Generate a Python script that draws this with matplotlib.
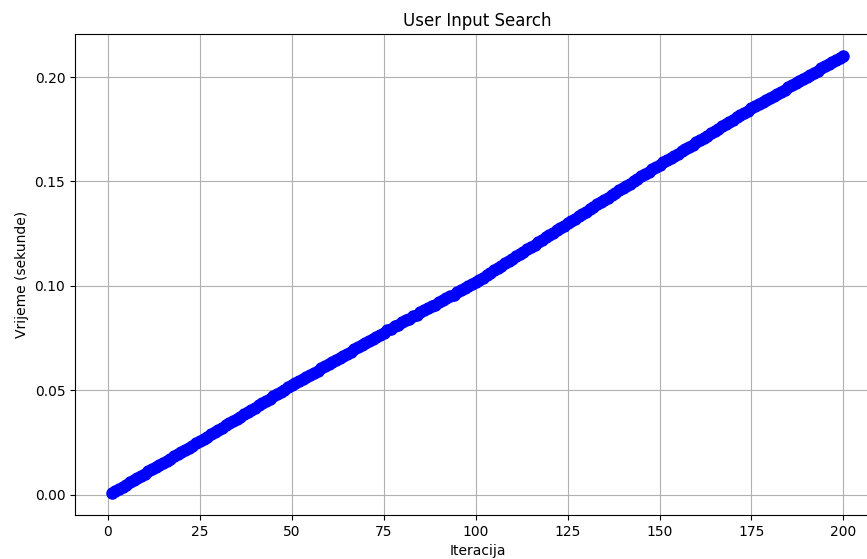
import matplotlib
matplotlib.use("Agg")
import matplotlib.pyplot as plt

# --- data (cumulative time per iteration) ---
iteracije = list(range(1, 201))
vrijeme = [
    0.0008, 0.0018, 0.0029, 0.0039, 0.0049, 0.0060, 0.0070, 0.0081, 0.0091, 0.0101,
    0.0112, 0.0122, 0.0132, 0.0142, 0.0153, 0.0163, 0.0173, 0.0184, 0.0194, 0.0204,
    0.0215, 0.0225, 0.0235, 0.0246, 0.0256, 0.0267, 0.0278, 0.0289, 0.0299, 0.0310,
    0.0321, 0.0332, 0.0342, 0.0353, 0.0364, 0.0374, 0.0385, 0.0396, 0.0407, 0.0418,
    0.0428, 0.0439, 0.0450, 0.0461, 0.0471, 0.0482, 0.0493, 0.0503, 0.0514, 0.0525,
    0.0535, 0.0545, 0.0555, 0.0565, 0.0575, 0.0585, 0.0595, 0.0606, 0.0616, 0.0626,
    0.0636, 0.0646, 0.0656, 0.0666, 0.0676, 0.0686, 0.0696, 0.0706, 0.0716, 0.0727,
    0.0737, 0.0747, 0.0757, 0.0767, 0.0777, 0.0787, 0.0796, 0.0806, 0.0815, 0.0825,
    0.0835, 0.0844, 0.0854, 0.0863, 0.0873, 0.0883, 0.0892, 0.0902, 0.0911, 0.0921,
    0.0931, 0.0940, 0.0950, 0.0959, 0.0969, 0.0979, 0.0988, 0.0998, 0.1007, 0.1017,
    0.1028, 0.1040, 0.1051, 0.1062, 0.1074, 0.1085, 0.1096, 0.1108, 0.1119, 0.1130,
    0.1141, 0.1153, 0.1164, 0.1175, 0.1187, 0.1198, 0.1209, 0.1221, 0.1232, 0.1243,
    0.1255, 0.1266, 0.1277, 0.1289, 0.1300, 0.1311, 0.1322, 0.1334, 0.1345, 0.1356,
    0.1367, 0.1378, 0.1390, 0.1401, 0.1412, 0.1423, 0.1434, 0.1446, 0.1457, 0.1468,
    0.1479, 0.1490, 0.1502, 0.1513, 0.1524, 0.1535, 0.1546, 0.1558, 0.1569, 0.1580,
    0.1591, 0.1602, 0.1612, 0.1623, 0.1634, 0.1645, 0.1656, 0.1666, 0.1677, 0.1688,
    0.1699, 0.1710, 0.1720, 0.1731, 0.1742, 0.1753, 0.1764, 0.1774, 0.1785, 0.1796,
    0.1807, 0.1818, 0.1828, 0.1839, 0.1850, 0.1860, 0.1870, 0.1880, 0.1890, 0.1900,
    0.1910, 0.1920, 0.1930, 0.1940, 0.1950, 0.1960, 0.1970, 0.1980, 0.1990, 0.2000,
    0.2010, 0.2020, 0.2031, 0.2041, 0.2051, 0.2061, 0.2071, 0.2081, 0.2091, 0.2101,
]

naslov = "User Input Search"

# --- plot ---
fig = plt.figure(figsize=(8.67, 5.59), dpi=100)
# the reference is cropped on the right, so the axes run past the figure edge
ax = fig.add_axes([0.0865, 0.0787, 0.9285, 0.8603])

ax.plot(iteracije, vrijeme, marker="o", linestyle="-", color="b", markersize=8)

ax.set_title(naslov)
ax.set_xlabel("Iteracija")
ax.set_ylabel("Vrijeme (sekunde)")
ax.grid(True)

fig.savefig("out.png", dpi=100)
plt.close(fig)
